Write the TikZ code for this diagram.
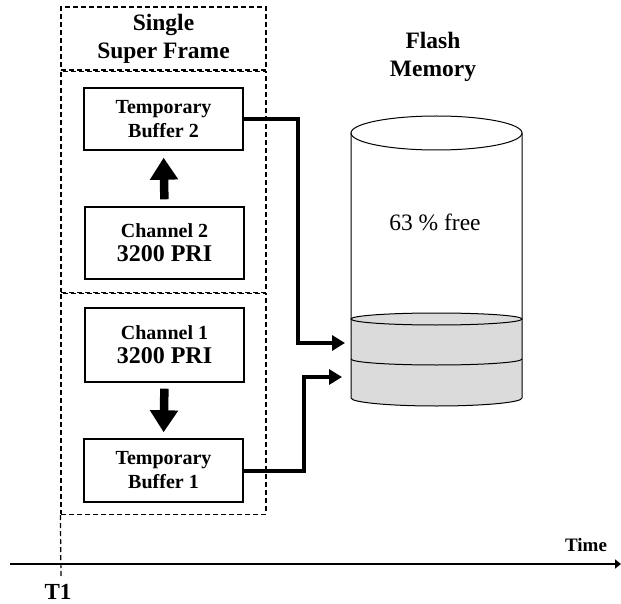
\documentclass[tikz,border=0pt]{standalone}
\usepackage{fontspec}
\setmainfont{Liberation Serif}
\usetikzlibrary{positioning,arrows.meta}
\begin{document}
\begin{tikzpicture}[
        x=1pt, y=1pt,
        frm/.style={rectangle, draw, line width=1.2pt, dash pattern=on 5pt off 3pt, minimum width=205pt, inner sep=0pt},
        blk/.style={rectangle, draw, line width=1.4pt, minimum width=159pt, align=center, inner sep=0pt, font=\bfseries\fontsize{20}{24}\selectfont},
        ttl/.style={align=center, font=\bfseries\fontsize{23.5}{28}\selectfont},
        link/.style={line width=4pt, -{Triangle[length=13pt,width=15pt]}},
        bigarrow/.style={line width=8.5pt, -{Triangle[length=22pt,width=27pt]}}
    ]
    \useasboundingbox (0,0) rectangle (621,-604);
    % super frame
    \node[frm, minimum height=63pt, ttl] (title) at (163.5,-38.5) {Single\\Super Frame};
    \node[frm, minimum height=221pt, below=0pt of title] (upper) {};
    \node[frm, minimum height=221pt, below=0pt of upper] (lower) {};
    \node[blk, minimum height=62pt] (buf2) at (163.5,-119) {Temporary\\Buffer 2};
    \node[blk, minimum height=72pt] (ch2) at (164.5,-243) {Channel 2\\{\fontsize{24}{26}\selectfont 3200 PRI}};
    \node[blk, minimum height=74pt] (ch1) at (164.5,-345) {Channel 1\\{\fontsize{24}{26}\selectfont 3200 PRI}};
    \node[blk, minimum height=63pt] (buf1) at (163.5,-470.5) {Temporary\\Buffer 1};
    \draw[bigarrow, shorten <=7pt, shorten >=7pt] (ch2.north) -- (buf2.south);
    \draw[bigarrow, shorten <=6pt, shorten >=6pt] (ch1.south) -- (buf1.north);
    % flash memory
    \node[ttl] (flash) at (433,-57) {Flash\\Memory};
    \fill[black!14] (351,-319) -- (351,-398) arc[start angle=180, end angle=360, x radius=85.5, y radius=8]
        -- (522,-319) arc[start angle=0, end angle=180, x radius=85.5, y radius=6] -- cycle;
    \draw[line width=1pt] (436.5,-319) ellipse[x radius=85.5, y radius=6];
    \draw[line width=1pt] (351,-359) arc[start angle=180, end angle=360, x radius=85.5, y radius=6];
    \draw[line width=1pt] (351,-133) -- (351,-398) arc[start angle=180, end angle=360, x radius=85.5, y radius=8] -- (522,-133);
    \draw[line width=1pt] (436.5,-133) ellipse[x radius=85.5, y radius=17];
    \node[font=\fontsize{23.5}{26}\selectfont] (free) at (435,-222) {63 \% free};
    \coordinate (in2) at (345,-343);
    \coordinate (in1) at (342,-377);
    \draw[link] (buf2.east) -- ++(54,0) |- (in2);
    \draw[link] (buf1.east) -- ++(60,0) |- (in1);
    % time axis
    \coordinate (t0) at (10,-564);
    \coordinate (tend) at (621,-564);
    \draw[line width=1.6pt, -{Triangle[length=6pt,width=9pt]}] (t0) -- (tend);
    \draw[line width=1.2pt, dash pattern=on 5pt off 3pt] (lower.south west) -- (61,-576);
    \node[font=\bfseries\fontsize{19}{22}\selectfont] (time) at (586,-545) {Time};
    \node[font=\bfseries\fontsize{23}{26}\selectfont] (t1) at (58,-592) {T1};
\end{tikzpicture}
\end{document}
